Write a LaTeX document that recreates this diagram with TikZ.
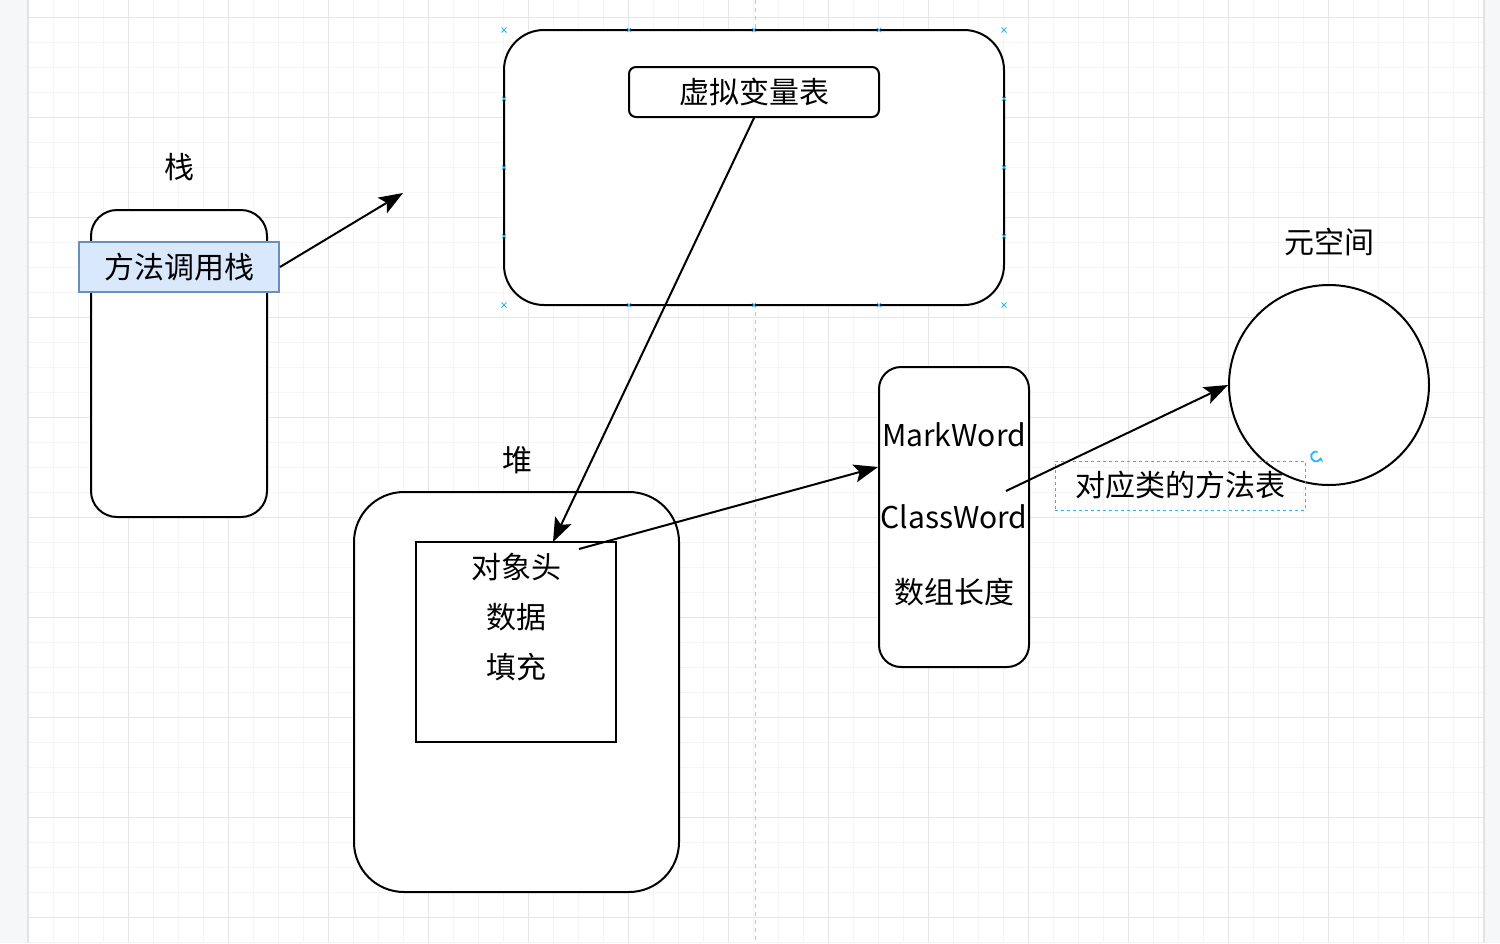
\documentclass[tikz,border=0pt]{standalone}
\usepackage{fontspec}
\setmainfont{Noto Sans CJK SC}
\usetikzlibrary{arrows.meta,shapes.geometric}
\definecolor{gridmajor}{HTML}{E6E6E6}
\definecolor{gridminor}{HTML}{F5F5F5}
\definecolor{sidebg}{HTML}{F6F7F9}
\definecolor{selblue}{HTML}{29B6F2}
\definecolor{stackfill}{HTML}{DAE8FC}
\definecolor{stackdraw}{HTML}{6C8EBF}
\definecolor{guide}{HTML}{C4C4C4}
\tikzset{
  shape box/.style={draw=black, line width=1pt, fill=white, inner sep=0pt},
  label txt/.style={font=\fontsize{15pt}{17pt}\selectfont, text=black, inner sep=0pt},
  link/.style={draw=black, line width=1pt, -{Stealth[length=12pt,width=9pt,inset=2.5pt]}},
  selmark/.style={draw=selblue, line width=0.4pt},
}
\begin{document}
\begin{tikzpicture}[x=0.5pt,y=-0.5pt]
\useasboundingbox (0,0) rectangle (1500,943);
% canvas background
\fill[sidebg] (0,0) rectangle (1500,943);
\fill[white] (28,0) rectangle (1484,943);
\foreach \gx in {28,53,...,1484} \draw[gridminor, line width=0.5pt] (\gx,0) -- (\gx,943);
\foreach \gy in {17,42,...,943} \draw[gridminor, line width=0.5pt] (28,\gy) -- (1484,\gy);
\foreach \gx in {128,228,...,1484} \draw[gridmajor, line width=0.5pt] (\gx,0) -- (\gx,943);
\foreach \gy in {17,117,...,943} \draw[gridmajor, line width=0.5pt] (28,\gy) -- (1484,\gy);
\draw[gridmajor!80!black!40, line width=0.6pt] (28,0) -- (28,943);
\draw[gridmajor!80!black!40, line width=0.6pt] (1484,0) -- (1484,943);
% alignment guide
\draw[guide, line width=0.5pt, dash pattern=on 2pt off 2pt] (755,0) -- (755,943);

% stack
\node[shape box, rounded corners=13pt, minimum width={176*0.5pt}, minimum height={307*0.5pt}] (stack) at (179,363.5) {};
\node[draw=stackdraw, fill=stackfill, line width=1pt, minimum width={200*0.5pt}, minimum height={50*0.5pt}, inner sep=0pt, label txt] (mcs) at (179,267) {方法调用栈};
\node[label txt] (stacklbl) at (179,167) {栈};

% top frame
\node[shape box, rounded corners=20pt, minimum width={500*0.5pt}, minimum height={275*0.5pt}] (frame) at (754,167.5) {};
\node[shape box, rounded corners=3.5pt, minimum width={250*0.5pt}, minimum height={50*0.5pt}, label txt] (vvt) at (754,92) {虚拟变量表};
% selection handles
\foreach \sx/\sy in {504/30,1004/30,504/305,1004/305}
  \draw[selmark] (\sx-2.5,\sy-2.5) -- (\sx+2.5,\sy+2.5) (\sx-2.5,\sy+2.5) -- (\sx+2.5,\sy-2.5);
\foreach \sx/\sy in {629/30,754/30,879/30,504/98.75,504/167.5,504/236.25,1004/98.75,1004/167.5,1004/236.25,629/305,754/305,879/305}
  \draw[selmark] (\sx-2,\sy-2) -- (\sx+2,\sy+2) (\sx-2,\sy+2) -- (\sx+2,\sy-2);

% heap
\node[label txt] (heaplbl) at (517,460) {堆};
\node[shape box, rounded corners=25pt, minimum width={325*0.5pt}, minimum height={400*0.5pt}] (heap) at (516.5,692) {};
\node[shape box, minimum width={200*0.5pt}, minimum height={200*0.5pt}] (obj) at (516,642) {};
\node[label txt] (objhead) at (516,567) {对象头};
\node[label txt] (objdata) at (516,617) {数据};
\node[label txt] (objpad) at (516,667) {填充};

% header box
\node[shape box, rounded corners=11pt, minimum width={150*0.5pt}, minimum height={300*0.5pt}] (hdr) at (954,517) {};
\node[label txt] (mw) at (954,435) {MarkWord};
\node[label txt] (cw) at (954,517) {ClassWord};
\node[label txt] (al) at (954,592) {数组长度};

% metaspace
\node[label txt] (metalbl) at (1329,242) {元空间};
\node[shape box, circle, minimum size={200*0.5pt}] (meta) at (1329,385) {};
\node[draw=selblue, dash pattern=on 1.5pt off 1.5pt, line width=0.5pt, minimum width={250*0.5pt}, minimum height={49*0.5pt}, inner sep=0pt, label txt] (mtbl) at (1180,485.5) {对应类的方法表};
\coordinate (rot) at (1316,447);
\draw[selblue, line width=0.9pt, -{Stealth[length=2.2pt,width=3pt]}] ([shift={(70:5)}]rot) arc[start angle=70, end angle=350, radius=2.5pt];

% connectors
\coordinate (a1end) at (403,193);
\coordinate (a2end) at (553,542);
\coordinate (a3start) at (579,549);
\coordinate (a3end) at (878,467);
\coordinate (a4start) at (1006,491);
\draw[link] (mcs.east) -- (a1end);
\draw[link] (vvt.south) -- (a2end);
\draw[link] (a3start) -- (a3end);
\draw[link] (a4start) -- (meta.west);
\end{tikzpicture}
\end{document}
